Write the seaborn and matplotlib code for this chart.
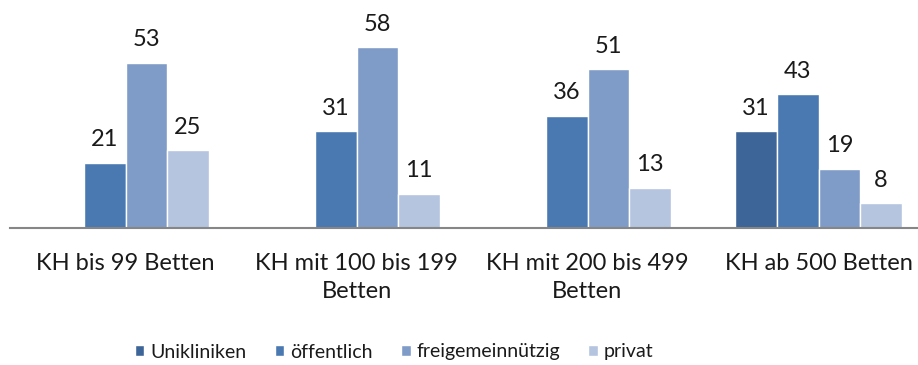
import matplotlib
matplotlib.use("Agg")
import matplotlib.pyplot as plt
import matplotlib.patches as mpatches
import seaborn as sns
import pandas as pd

# Hospital groups by bed count and the share per ownership type
categories = ["KH bis 99 Betten", "KH mit 100 bis 199\nBetten",
              "KH mit 200 bis 499\nBetten", "KH ab 500 Betten"]
series = ["Unikliniken", "öffentlich", "freigemeinnützig", "privat"]
unikliniken = [None, None, None, 31]
oeffentlich = [21, 31, 36, 43]
freigemeinnuetzig = [53, 58, 51, 19]
privat = [25, 11, 13, 8]

colors = ["#3D6598", "#4A79B2", "#7F9CC8", "#B5C4DF"]

rows = []
for name, values in zip(series, [unikliniken, oeffentlich, freigemeinnuetzig, privat]):
    for cat, v in zip(categories, values):
        if v is not None:
            rows.append({"Kategorie": cat, "Träger": name, "Wert": v})
df = pd.DataFrame(rows)

sns.set_theme(style="white")
plt.rcParams["font.family"] = ["Lato", "DejaVu Sans"]

fig = plt.figure(figsize=(9.18, 3.65), dpi=100)
ax = fig.add_axes([10 / 918, 137 / 365, 924 / 918, 218 / 365])

sns.barplot(data=df, x="Kategorie", y="Wert", hue="Träger",
            order=categories, hue_order=series, palette=colors,
            saturation=1, width=0.72, edgecolor="white", linewidth=1.0,
            legend=False, ax=ax)

for cont in ax.containers:
    ax.bar_label(cont, fmt="%g", padding=9, fontsize=17, color="#1a1a1a")

ax.set_xlim(-0.5, 3.5)
ax.set_ylim(0, 70)
ax.set_xlabel("")
ax.set_ylabel("")
ax.set_yticks([])
for side in ["left", "right", "top"]:
    ax.spines[side].set_visible(False)
ax.spines["bottom"].set_color("#868686")
ax.spines["bottom"].set_linewidth(1.5)
ax.tick_params(axis="x", length=0, pad=18, labelsize=17, labelcolor="#1a1a1a")
for lbl in ax.get_xticklabels():
    lbl.set_linespacing(1.4)

handles = [mpatches.Patch(facecolor=c, edgecolor="white", label=s)
           for c, s in zip(colors, series)]
fig.legend(handles=handles, loc="center", bbox_to_anchor=(394 / 918, 13 / 365),
           ncol=4, frameon=False, fontsize=14, handlelength=0.5, handleheight=0.5,
           handletextpad=0.3, columnspacing=1.45, labelcolor="#1a1a1a")

fig.savefig("out.png", dpi=100)
